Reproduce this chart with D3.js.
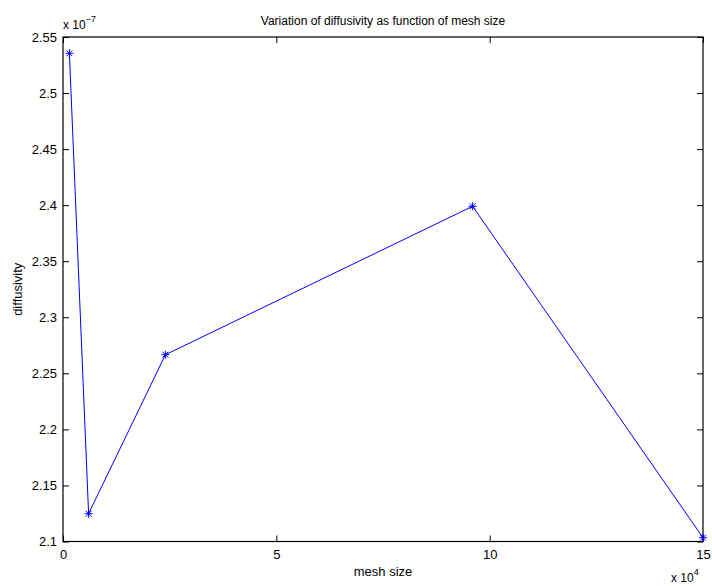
<!DOCTYPE html>
<html><head><meta charset="utf-8">
<script src="https://cdn.jsdelivr.net/npm/d3@7"></script>
<style>body{margin:0;background:#fff}text{font-family:"Liberation Sans",Arial,Helvetica,sans-serif;fill:#000}</style>
</head><body>
<svg id="c" width="712" height="586"></svg>
<script>
const meshSize = [1500, 6000, 24000, 96000, 150000];
const diffusivity = [2.5355e-7, 2.1248e-7, 2.2666e-7, 2.399e-7, 2.1034e-7];
const xTicks = [0, 5, 10, 15];
const yTicks = [2.1, 2.15, 2.2, 2.25, 2.3, 2.35, 2.4, 2.45, 2.5, 2.55];
const titleText = "Variation of diffusivity as function of mesh size";
const xLabel = "mesh size";
const yLabel = "diffusivity";

const L = 63, R = 703, T = 37, B = 541.5;
const svg = d3.select("#c");
const x = d3.scaleLinear().domain([0, 15]).range([L, R]);
const y = d3.scaleLinear().domain([2.1, 2.55]).range([B, T]);
const fs = 13, tl = 6;

// x axis bottom
svg.append("g").attr("transform", `translate(0,${B})`)
  .call(d3.axisBottom(x).tickValues(xTicks).tickFormat(d3.format("d")).tickSizeInner(-tl).tickSizeOuter(0).tickPadding(8))
  .call(g => { g.select(".domain").remove(); g.selectAll("text").attr("font-size", fs).attr("font-family","Liberation Sans, Arial, sans-serif").attr("dy","0.71em"); g.selectAll("line").attr("stroke","#000"); });
// x axis top (ticks only)
svg.append("g").attr("transform", `translate(0,${T})`)
  .call(d3.axisTop(x).tickValues(xTicks).tickFormat("").tickSizeInner(-tl).tickSizeOuter(0))
  .call(g => { g.select(".domain").remove(); g.selectAll("line").attr("stroke","#000"); });
// y axis left
svg.append("g").attr("transform", `translate(${L},0)`)
  .call(d3.axisLeft(y).tickValues(yTicks).tickFormat(d => d3.format("")(+d.toFixed(2))).tickSizeInner(-tl).tickSizeOuter(0).tickPadding(6))
  .call(g => { g.select(".domain").remove(); g.selectAll("text").attr("font-size", fs).attr("font-family","Liberation Sans, Arial, sans-serif"); g.selectAll("line").attr("stroke","#000"); });
// y axis right
svg.append("g").attr("transform", `translate(${R},0)`)
  .call(d3.axisRight(y).tickValues(yTicks).tickFormat("").tickSizeInner(-tl).tickSizeOuter(0))
  .call(g => { g.select(".domain").remove(); g.selectAll("line").attr("stroke","#000"); });

// box
svg.append("rect").attr("x", L).attr("y", T).attr("width", R - L).attr("height", B - T)
  .attr("fill", "none").attr("stroke", "#000").attr("stroke-width", 1.2);

// data
const pts = meshSize.map((m, i) => [x(m / 1e4), y(diffusivity[i] / 1e-7)]);
svg.append("path").attr("d", d3.line()(pts)).attr("fill", "none").attr("stroke", "#0000ff").attr("stroke-width", 1);
const s = 4, d = 2.9;
const mk = svg.append("g").attr("stroke", "#0000ff").attr("stroke-width", 1);
pts.forEach(([px, py]) => {
  mk.append("line").attr("x1", px - s).attr("x2", px + s).attr("y1", py).attr("y2", py);
  mk.append("line").attr("x1", px).attr("x2", px).attr("y1", py - s).attr("y2", py + s);
  mk.append("line").attr("x1", px - d).attr("x2", px + d).attr("y1", py - d).attr("y2", py + d);
  mk.append("line").attr("x1", px - d).attr("x2", px + d).attr("y1", py + d).attr("y2", py - d);
});

// title & labels
svg.append("text").attr("x", (L + R) / 2).attr("y", 25).attr("text-anchor", "middle").attr("font-size", 12).text(titleText);
svg.append("text").attr("x", (L + R) / 2).attr("y", 576).attr("text-anchor", "middle").attr("font-size", fs).text(xLabel);
svg.append("text").attr("transform", `translate(22,${(T + B) / 2}) rotate(-90)`).attr("text-anchor", "middle").attr("font-size", fs).text(yLabel);

// exponent labels
const e1 = svg.append("text").attr("x", 63).attr("y", 29).attr("font-size", 12);
e1.append("tspan").text("x 10");
e1.append("tspan").attr("font-size", 9).attr("dy", -7).text("\u22127");
const e2 = svg.append("text").attr("x", 671).attr("y", 582).attr("font-size", 12);
e2.append("tspan").text("x 10");
e2.append("tspan").attr("font-size", 9).attr("dy", -7).text("4");
</script>
</body></html>
